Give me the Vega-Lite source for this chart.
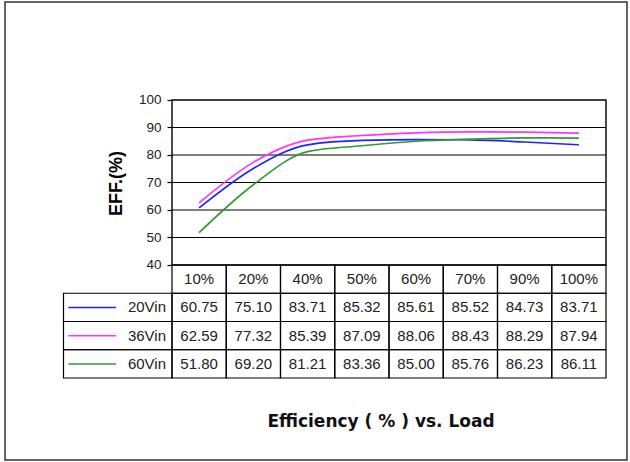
{
  "$schema": "https://vega.github.io/schema/vega-lite/v6.json",
  "width": 622,
  "height": 458,
  "autosize": {"type": "none"},
  "padding": {"left": 5, "top": 2, "right": 3, "bottom": 2},
  "background": "white",
  "config": {
    "view": {"stroke": "#333333", "strokeWidth": 1.5},
    "font": "Liberation Sans"
  },
  "title": {
    "text": "Efficiency ( % ) vs. Load",
    "orient": "bottom",
    "anchor": "middle",
    "font": "DejaVu Sans",
    "fontSize": 17,
    "fontWeight": "bold",
    "color": "#111111",
    "offset": -46,
    "dx": 65
  },
  "data": {
    "values": [
      {"load": "10%", "series": "20Vin", "eff": 60.75},
      {"load": "20%", "series": "20Vin", "eff": 75.10},
      {"load": "40%", "series": "20Vin", "eff": 83.71},
      {"load": "50%", "series": "20Vin", "eff": 85.32},
      {"load": "60%", "series": "20Vin", "eff": 85.61},
      {"load": "70%", "series": "20Vin", "eff": 85.52},
      {"load": "90%", "series": "20Vin", "eff": 84.73},
      {"load": "100%", "series": "20Vin", "eff": 83.71},
      {"load": "10%", "series": "36Vin", "eff": 62.59},
      {"load": "20%", "series": "36Vin", "eff": 77.32},
      {"load": "40%", "series": "36Vin", "eff": 85.39},
      {"load": "50%", "series": "36Vin", "eff": 87.09},
      {"load": "60%", "series": "36Vin", "eff": 88.06},
      {"load": "70%", "series": "36Vin", "eff": 88.43},
      {"load": "90%", "series": "36Vin", "eff": 88.29},
      {"load": "100%", "series": "36Vin", "eff": 87.94},
      {"load": "10%", "series": "60Vin", "eff": 51.80},
      {"load": "20%", "series": "60Vin", "eff": 69.20},
      {"load": "40%", "series": "60Vin", "eff": 81.21},
      {"load": "50%", "series": "60Vin", "eff": 83.36},
      {"load": "60%", "series": "60Vin", "eff": 85.00},
      {"load": "70%", "series": "60Vin", "eff": 85.76},
      {"load": "90%", "series": "60Vin", "eff": 86.23},
      {"load": "100%", "series": "60Vin", "eff": 86.11}
    ]
  },
  "layer": [
    {
      "layer": [
        {
          "data": {"values": [{"g": 50}, {"g": 60}, {"g": 70}, {"g": 80}, {"g": 90}]},
          "mark": {"type": "rule", "color": "#000000", "strokeWidth": 1.2},
          "encoding": {
            "y": {"field": "g", "type": "quantitative", "title": "EFF.(%)"},
            "x": {"datum": "10%", "type": "nominal", "bandPosition": 0, "axis": null},
            "x2": {"datum": "100%", "bandPosition": 1}
          }
        },
        {
          "data": {"values": [{"g": 40, "g2": 100}]},
          "mark": {"type": "rect", "fill": null, "fillOpacity": 0, "stroke": "#000000", "strokeWidth": 1.4},
          "encoding": {
            "y": {"field": "g", "type": "quantitative", "title": "EFF.(%)"},
            "y2": {"field": "g2"},
            "x": {"datum": "10%", "type": "nominal", "bandPosition": 0, "axis": null},
            "x2": {"datum": "100%", "bandPosition": 1}
          }
        },
        {
          "mark": {"type": "line", "interpolate": "monotone", "strokeWidth": 1.7},
          "encoding": {
            "x": {
              "field": "load",
              "type": "nominal",
              "sort": null,
              "axis": null,
              "scale": {
                "type": "band",
                "domain": ["_a", "_b", "10%", "20%", "40%", "50%", "60%", "70%", "90%", "100%"],
                "paddingInner": 0,
                "paddingOuter": 0.7327,
                "align": 0.7358
              }
            },
            "y": {
              "field": "eff",
              "type": "quantitative",
              "title": "EFF.(%)",
              "scale": {"domain": [-30.909, 135.636], "nice": false, "zero": false},
              "axis": {
                "values": [40, 50, 60, 70, 80, 90, 100],
                "offset": -167,
                "grid": false,
                "domain": false,
                "ticks": true,
                "tickSize": 5,
                "tickColor": "#000000",
                "tickWidth": 1.2,
                "labelFont": "Liberation Sans",
                "labelFontSize": 13.5,
                "labelColor": "#222222",
                "labelPadding": 6,
                "titleFont": "Liberation Sans",
                "titleFontSize": 18,
                "titleFontWeight": "bold",
                "titleColor": "#000000",
                "titleX": -47,
                "titleY": 181
              }
            },
            "color": {
              "field": "series",
              "type": "nominal",
              "legend": null,
              "scale": {"domain": ["20Vin", "36Vin", "60Vin"], "range": ["#2222ff", "#ff33ff", "#339933"]}
            }
          }
        }
      ]
    },
    {
      "layer": [
        {
          "mark": {"type": "rect", "fill": null, "fillOpacity": 0, "stroke": "#000000", "strokeWidth": 1.2},
          "encoding": {
            "x": {"field": "load", "type": "nominal", "axis": null},
            "y": {
              "field": "series",
              "type": "nominal",
              "axis": null,
              "scale": {
                "type": "band",
                "domain": ["header", "20Vin", "36Vin", "60Vin"],
                "paddingInner": 0,
                "paddingOuter": 0,
                "range": [263, 376]
              }
            }
          }
        },
        {
          "transform": [{"filter": "datum.series === '20Vin'"}],
          "mark": {"type": "rect", "fill": null, "fillOpacity": 0, "stroke": "#000000", "strokeWidth": 1.2},
          "encoding": {
            "x": {"field": "load", "type": "nominal", "axis": null},
            "y": {"datum": "header", "type": "nominal", "axis": null}
          }
        },
        {
          "transform": [{"filter": "datum.load === '10%'"}],
          "mark": {"type": "rect", "fill": null, "fillOpacity": 0, "stroke": "#000000", "strokeWidth": 1.2},
          "encoding": {
            "x": {"datum": "_a", "type": "nominal", "bandPosition": 0, "axis": null},
            "x2": {"datum": "_b", "bandPosition": 1},
            "y": {"field": "series", "type": "nominal", "axis": null}
          }
        },
        {
          "mark": {"type": "text", "fontSize": 15, "color": "#222222", "font": "Liberation Sans"},
          "encoding": {
            "x": {"field": "load", "type": "nominal", "axis": null},
            "y": {"field": "series", "type": "nominal", "axis": null},
            "text": {"field": "eff", "type": "quantitative", "format": ".2f"}
          }
        },
        {
          "transform": [{"filter": "datum.series === '20Vin'"}],
          "mark": {"type": "text", "fontSize": 15, "color": "#222222", "font": "Liberation Sans"},
          "encoding": {
            "x": {"field": "load", "type": "nominal", "axis": null},
            "y": {"datum": "header", "type": "nominal", "axis": null},
            "text": {"field": "load", "type": "nominal"}
          }
        },
        {
          "transform": [{"filter": "datum.load === '10%'"}],
          "mark": {"type": "rule", "strokeWidth": 1.5},
          "encoding": {
            "x": {"datum": "_a", "type": "nominal", "bandPosition": 0.09, "axis": null},
            "x2": {"datum": "_a", "bandPosition": 0.97},
            "y": {"field": "series", "type": "nominal", "axis": null},
            "color": {"field": "series", "type": "nominal", "legend": null}
          }
        },
        {
          "transform": [{"filter": "datum.load === '10%'"}],
          "mark": {"type": "text", "fontSize": 15, "color": "#222222", "align": "right", "dx": -6, "font": "Liberation Sans"},
          "encoding": {
            "x": {"datum": "_b", "type": "nominal", "bandPosition": 1, "axis": null},
            "y": {"field": "series", "type": "nominal", "axis": null},
            "text": {"field": "series", "type": "nominal"}
          }
        }
      ]
    }
  ],
  "resolve": {"scale": {"y": "independent"}, "axis": {"y": "independent"}}
}
